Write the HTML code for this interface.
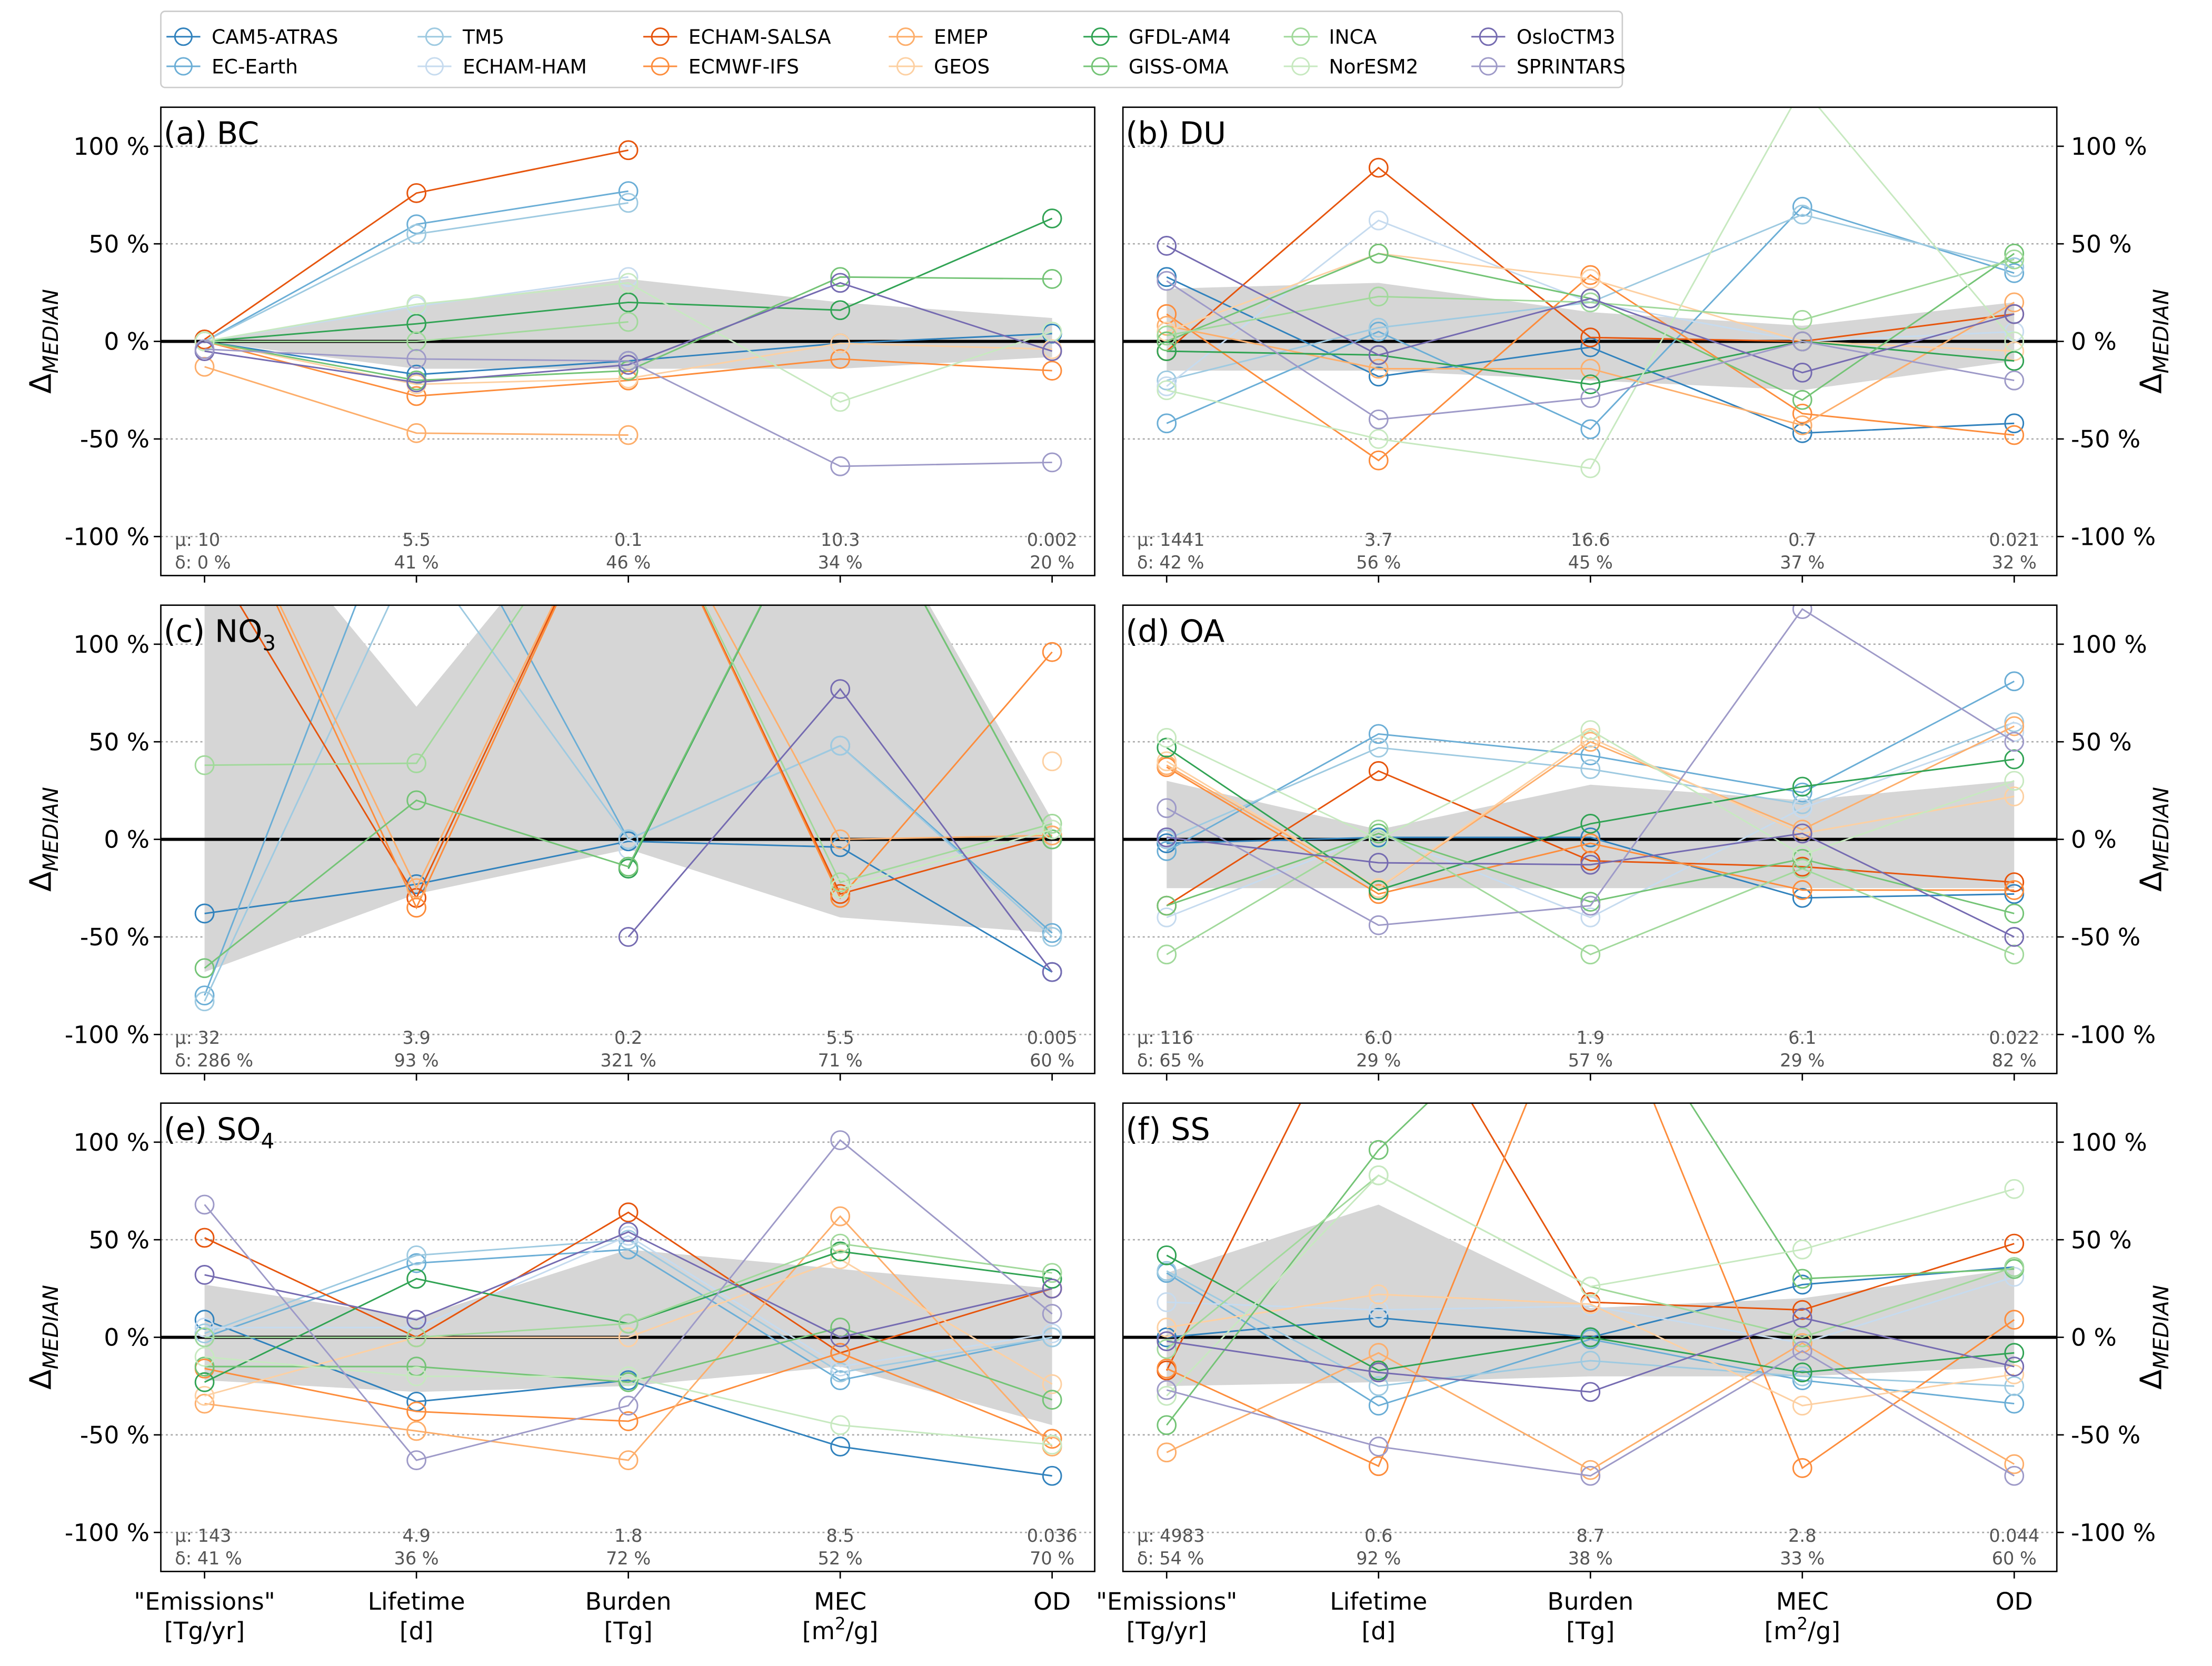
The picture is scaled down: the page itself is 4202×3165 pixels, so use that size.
<!DOCTYPE html>
<html><head><meta charset="utf-8">
<style>
html,body{margin:0;padding:0;background:#fff;}
svg{display:block;font-family:"DejaVu Sans","Liberation Sans",sans-serif;}
</style></head>
<body>
<svg id="chart" width="4202" height="3165" viewBox="0 0 1568 1181" xmlns="http://www.w3.org/2000/svg"></svg>
<script>
const models = ["CAM5-ATRAS","EC-Earth","TM5","ECHAM-HAM","ECHAM-SALSA","ECMWF-IFS","EMEP","GEOS","GFDL-AM4","GISS-OMA","INCA","NorESM2","OsloCTM3","SPRINTARS"];
const colors = ["#3182bd","#6baed6","#9ecae1","#c6dbef","#e6550d","#fd8d3c","#fdae6b","#fdd0a2","#31a354","#74c476","#a1d99b","#c7e9c0","#756bb1","#9e9ac8"];
const categories = ["\"Emissions\"|[Tg/yr]","Lifetime|[d]","Burden|[Tg]","MEC|[m²/g]","OD|"];
const yTicks = [-100,-50,0,50,100];
const N = null;
const panelTitles = ["(a) BC","(b) DU","(c) NO3","(d) OA","(e) SO4","(f) SS"];
const muLabels = [["10","5.5","0.1","10.3","0.002"],["1441","3.7","16.6","0.7","0.021"],["32","3.9","0.2","5.5","0.005"],["116","6.0","1.9","6.1","0.022"],["143","4.9","1.8","8.5","0.036"],["4983","0.6","8.7","2.8","0.044"]];
const deltaLabels = [["0%","41%","46%","34%","20%"],["42%","56%","45%","37%","32%"],["286%","93%","321%","71%","60%"],["65%","29%","57%","29%","82%"],["41%","36%","72%","52%","70%"],["54%","92%","38%","33%","60%"]];
const bandUpper = [[0,18,32,20,12],[27,30,15,8,20],[200,68,200,200,10],[30,5,28,20,30],[27,10,45,35,25],[33,68,15,20,35]];
const bandLower = [[0,-14,-14,-14,-8],[-15,-15,-20,-25,-10],[-68,-28,-5,-40,-48],[-25,-25,-25,-25,-25],[-22,-28,-25,-15,-45],[-25,-23,-20,-20,-15]];
const dataBC = [[0,-17,-10,-1,4],[0,60,77,N,N],[0,55,71,N,N],[0,18,33,N,N],[1,76,98,N,N],[0,-28,-20,-9,-15],[-13,-47,-48,N,N],[0,-22,-19,-1,-4],[0,9,20,16,63],[0,-20,-15,33,32],[0,0,10,N,N],[0,19,30,-31,5],[-5,-21,-12,30,-5],[-4,-9,-10,-64,-62]];
const dataDU = [[33,-18,-3,-47,-42],[-42,5,-45,69,35],[-20,7,20,65,38],[-23,62,20,0,5],[-5,89,2,0,14],[14,-61,34,-37,-48],[8,-14,-14,-43,20],[5,45,32,0,-5],[-5,-7,-22,0,-10],[0,45,22,-30,45],[3,23,20,11,42],[-25,-50,-65,130,0],[49,-7,22,-16,14],[31,-40,-29,0,-20]];
const dataNO3 = [[-38,-23,-1,-4,-68],[-80,200,0,48,-48],[-83,150,0,48,-50],[N,N,-5,N,N],[150,-30,200,-28,2],[200,-35,200,-30,96],[200,-25,200,0,2],[N,N,N,N,40],[N,N,-15,200,0],[-66,20,-14,200,0],[38,39,200,-22,8],[N,N,N,-25,5],[N,N,-50,77,-68],[N,N,N,N,N]];
const dataOA = [[-2,1,1,-30,-28],[-6,54,43,24,81],[0,47,36,18,60],[-40,3,-40,16,55],[-34,35,-11,-14,-22],[37,-28,-2,-26,-26],[38,-25,50,5,58],[40,-25,52,3,22],[47,-26,8,27,41],[-34,3,-32,-10,-38],[-59,5,-59,-15,-59],[52,0,56,-8,30],[1,-12,-13,3,-50],[16,-44,-34,118,50]];
const dataSO4 = [[9,-33,-22,-56,-71],[0,38,45,-22,0],[2,42,50,-18,0],[5,5,52,-15,2],[51,0,64,-8,25],[-16,-38,-43,-8,-52],[-34,-48,-63,62,-56],[-30,0,0,40,-24],[-23,30,7,44,30],[-15,-15,-23,5,-32],[0,0,7,48,33],[-10,-20,-20,-45,-55],[32,9,54,0,25],[68,-63,-35,101,12]];
const dataSS = [[0,10,0,27,36],[33,-35,-1,-22,-34],[34,-25,-12,-20,-25],[18,14,16,-3,31],[-17,200,18,14,48],[-16,-66,200,-67,9],[-59,-8,-68,-3,-65],[5,22,17,-35,-19],[42,-17,0,-18,-8],[-45,96,200,30,35],[-6,83,26,0,36],[-30,83,26,45,76],[-2,-18,-28,10,-15],[-27,-56,-71,-7,-71]];
const panelData = [dataBC,dataDU,dataNO3,dataOA,dataSO4,dataSS];

const svg = document.getElementById('chart');
const NS = "http://www.w3.org/2000/svg";
function mk(tag, attrs, parent){const e=document.createElementNS(NS,tag);for(const k in attrs)e.setAttribute(k,attrs[k]);(parent||svg).appendChild(e);return e;}

const PW=662, PH=332;
const panelX=[114,796], panelY=[76,429,782];
const defs = mk('defs',{});

for(let p=0;p<6;p++){
  const col=p%2,row=Math.floor(p/2);
  const x0=panelX[col], y0=panelY[row];
  const xs = i => x0 + 31 + i*150.2;
  const ys = v => y0 + PH/2 - v*(PH/240);
  const g = mk('g',{});
  
  
  const cp = mk('clipPath',{id:'cp'+p},defs);
  mk('rect',{x:x0,y:y0,width:PW,height:PH},cp);
  const inner = mk('g',{'clip-path':'url(#cp'+p+')'},g);
  // grid
  yTicks.forEach(t=>{ if(t!==0){const l=mk('line',{x1:x0,x2:x0+PW,y1:ys(t),y2:ys(t),stroke:'#aaa','stroke-width':1,'stroke-dasharray':'1.5,2'},inner);
    }});
  // band
  let pts=[];
  for(let i=0;i<5;i++)pts.push(xs(i)+','+ys(bandUpper[p][i]));
  for(let i=4;i>=0;i--)pts.push(xs(i)+','+ys(bandLower[p][i]));
  const band=mk('polygon',{points:pts.join(' '),fill:'#d6d6d6'},inner);
  
  
  const zl=mk('line',{x1:x0,x2:x0+PW,y1:ys(0),y2:ys(0),stroke:'#000','stroke-width':2.2},inner);
  
  
  // series
  const d=panelData[p];
  d.forEach((vals,m)=>{
    const sg=mk('g',{},inner);
    
    
    let seg=[];
    const flush=()=>{if(seg.length>1){mk('polyline',{points:seg.join(' '),fill:'none',stroke:colors[m],'stroke-width':1.1},sg);}seg=[];};
    vals.forEach((v,i)=>{ if(v===null){flush();} else seg.push(xs(i)+','+ys(v)); });
    flush();
    vals.forEach((v,i)=>{ if(v!==null){const c=mk('circle',{cx:xs(i),cy:ys(v),r:6.5,fill:'none',stroke:colors[m],'stroke-width':1.1},sg);
      }});
  });
  // frame
  mk('rect',{x:x0,y:y0,width:PW,height:PH,fill:'none',stroke:'#000','stroke-width':1},g);
  // title
  const tt=panelTitles[p];
  const m2=tt.match(/^(.*?)(\d)$/);
  const t=mk('text',{x:x0+2,y:y0+26,'font-size':22,fill:'#000'},g);
  
  
  if(m2){t.textContent=m2[1];const s=mk('tspan',{'font-size':15,dy:6},t);s.textContent=m2[2];}else t.textContent=tt;
  // y ticks
  yTicks.forEach(tv=>{
    const y=ys(tv);
    if(col===0){mk('line',{x1:x0-5,x2:x0,y1:y,y2:y,stroke:'#000'},g);
      const tl=mk('text',{x:x0-8,y:y+6,'font-size':17,'text-anchor':'end'},g);tl.textContent=tv+' %';
      }
    else {mk('line',{x1:x0+PW,x2:x0+PW+5,y1:y,y2:y,stroke:'#000'},g);
      const tl=mk('text',{x:x0+PW+10,y:y+6,'font-size':17,'text-anchor':'start'},g);tl.textContent=tv+' %';
      }
  });
  // x ticks
  for(let i=0;i<5;i++){mk('line',{x1:xs(i),x2:xs(i),y1:y0+PH,y2:y0+PH+5,stroke:'#000'},g);}
  // annotations
  for(let i=0;i<5;i++){
    const anchor=i===0?'start':'middle';
    const ax=i===0?x0+10:xs(i);
    const a1=mk('text',{x:ax,y:y0+PH-21,'font-size':12.5,fill:'#555','text-anchor':anchor},g);
    
    a1.textContent=(i===0?'μ: ':'')+muLabels[p][i];
    const a2=mk('text',{x:ax,y:y0+PH-5,'font-size':12.5,fill:'#555','text-anchor':anchor},g);
    
    a2.textContent=(i===0?'δ: ':'')+deltaLabels[p][i].replace('%',' %');
  }
  // y axis title
  const ax=col===0?36:1532;
  const yt=mk('text',{x:ax,y:y0+PH/2,'font-size':21,'text-anchor':'middle',transform:`rotate(-90 ${ax} ${y0+PH/2})`},g);
  
  yt.textContent='Δ';const sb=mk('tspan',{'font-size':15,dy:5,'font-style':'italic'},yt);sb.textContent='MEDIAN';
  // x labels on bottom row
  if(row===2){
    for(let i=0;i<5;i++){
      const parts=categories[i].split('|');
      const l1=mk('text',{x:xs(i),y:y0+PH+27,'font-size':17,'text-anchor':'middle'},g);
      
      l1.textContent=parts[0];
      if(parts[1]){const l2=mk('text',{x:xs(i),y:y0+PH+48,'font-size':17,'text-anchor':'middle'},g);
        
        if(parts[1].includes('²')){l2.textContent='[m';const s=mk('tspan',{'font-size':12,dy:-7},l2);s.textContent='2';const s2=mk('tspan',{dy:7},l2);s2.textContent='/g]';}
        else l2.textContent=parts[1];}
    }
  }
}
// legend
const lg=mk('g',{});


mk('rect',{x:114,y:8,width:1036,height:54,rx:3,fill:'#fff',stroke:'#ccc'},lg);
const colX=[118,296,456,630,768,910,1043];
models.forEach((m,i)=>{
  const c=Math.floor(i/2),r=i%2;
  const x=colX[c],y=26+r*21;
  const e=mk('g',{},lg);
  
  
  mk('line',{x1:x,x2:x+24,y1:y,y2:y,stroke:colors[i],'stroke-width':1.1},e);
  mk('circle',{cx:x+12,cy:y,r:6,fill:'none',stroke:colors[i],'stroke-width':1.1},e);
  const t=mk('text',{x:x+32,y:y+5,'font-size':14},e);t.textContent=m;
});
</script>
</body></html>
